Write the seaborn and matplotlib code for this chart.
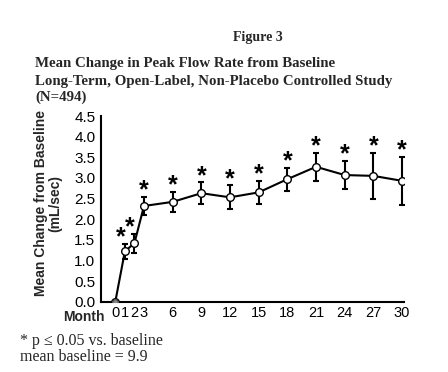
import matplotlib
matplotlib.use("Agg")
import matplotlib.pyplot as plt
import seaborn as sns
import pandas as pd

months = [0, 1, 2, 3, 6, 9, 12, 15, 18, 21, 24, 27, 30]
mean_change = [0.0, 1.22, 1.42, 2.32, 2.42, 2.63, 2.53, 2.65, 2.97, 3.27, 3.07, 3.05, 2.93]
sem = [0.0, 0.18, 0.23, 0.23, 0.24, 0.26, 0.29, 0.28, 0.28, 0.34, 0.34, 0.56, 0.58]
significant = [False, True, True, True, True, True, True, True, True, True, True, True, True]
xtick_labels = ["0", "1", "2", "3", "6", "9", "12", "15", "18", "21", "24", "27", "30"]
ytick_vals = [0.0, 0.5, 1.0, 1.5, 2.0, 2.5, 3.0, 3.5, 4.0, 4.5]

df = pd.DataFrame({"month": months, "mean": mean_change, "sem": sem})

sns.set_theme(style="white")
plt.rcParams["font.family"] = ["Liberation Sans", "DejaVu Sans"]

fig = plt.figure(figsize=(4.48, 3.72), dpi=100)
ax = fig.add_axes([0.2254, 0.189, 0.6763, 0.499])

ax.errorbar(df["month"], df["mean"], yerr=df["sem"], fmt="none",
            ecolor="black", elinewidth=1.5, capsize=2, capthick=1.5, zorder=2)
sns.lineplot(data=df, x="month", y="mean", ax=ax, color="black", linewidth=1.5,
             marker="o", markersize=5.5, markerfacecolor="white",
             markeredgecolor="black", markeredgewidth=1.0, zorder=3)
ax.plot([months[0]], [mean_change[0]], "o", markersize=4, markerfacecolor="#888888",
        markeredgecolor="#444444", markeredgewidth=0.8, zorder=4)

for m, v, s, sig in zip(months, mean_change, sem, significant):
    if sig:
        dx = -3 if m in (1, 2) else 0
        ax.annotate("*", xy=(m, v + s), xytext=(dx, -4), textcoords="offset points",
                    ha="center", va="bottom", fontsize=18, fontweight="bold",
                    color="black")

ax.set_xlim(-1.5, 30.2)
ax.set_ylim(0, 4.5)
ax.set_xticks(months)
ax.set_xticklabels(xtick_labels, fontsize=10.5)
ax.set_yticks(ytick_vals)
ax.set_yticklabels([f"{v:.1f}" for v in ytick_vals], fontsize=11)
ax.tick_params(axis="y", direction="out", length=3, width=1, pad=1, colors="black")
ax.tick_params(axis="x", direction="in", length=3, width=1, pad=3, colors="black")
ax.set_xlabel("")
ax.set_ylabel("Mean Change from Baseline\n(mL/sec)", fontsize=10, fontweight="bold",
              linespacing=1.05)
ax.yaxis.set_label_coords(-0.128, 0.53)
for side in ["top", "right"]:
    ax.spines[side].set_visible(False)
for side in ["left", "bottom"]:
    ax.spines[side].set_color("black")
    ax.spines[side].set_linewidth(1.5)
ax.grid(False)

fig.text(63 / 448, 1 - 317 / 372, "Month", fontsize=10, fontweight="bold",
         ha="left", va="center")

serif = ["Liberation Serif", "DejaVu Serif"]
fig.text(258 / 448, 1 - 37 / 372, "Figure 3", fontsize=10, fontweight="bold",
         ha="center", va="center", family=serif)
fig.text(35 / 448, 1 - 63 / 372, "Mean Change in Peak Flow Rate from Baseline",
         fontsize=10.7, fontweight="bold", ha="left", va="center", family=serif)
fig.text(35 / 448, 1 - 81 / 372, "Long-Term, Open-Label, Non-Placebo Controlled Study",
         fontsize=10.7, fontweight="bold", ha="left", va="center", family=serif)
fig.text(35 / 448, 1 - 97 / 372, "(N=494)",
         fontsize=10.7, fontweight="bold", ha="left", va="center", family=serif)
fig.text(20 / 448, 1 - 341 / 372, "* p \u2264 0.05 vs. baseline",
         fontsize=11.5, ha="left", va="center", family=serif)
fig.text(20 / 448, 1 - 357 / 372, "mean baseline = 9.9",
         fontsize=11.5, ha="left", va="center", family=serif)

fig.savefig("out.png", dpi=100)
